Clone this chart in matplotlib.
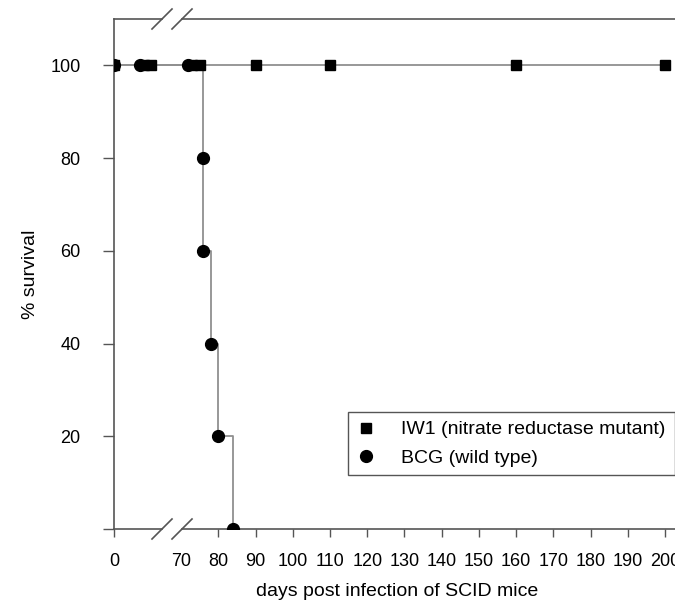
import matplotlib
matplotlib.use("Agg")
import matplotlib.pyplot as plt
import numpy as np

plt.rcParams['font.family'] = ['Liberation Sans', 'DejaVu Sans']

# survival data
iw1_days = [0, 8, 10, 73, 75, 90, 110, 160, 200]
iw1_surv = [100, 100, 100, 100, 100, 100, 100, 100, 100]
bcg_days = [0, 7, 72, 76, 76, 78, 80, 84]
bcg_surv = [100, 100, 100, 80, 60, 40, 20, 0]

xtick_vals = [0, 70, 80, 90, 100, 110, 120, 130, 140, 150, 160, 170, 180, 190, 200]
ytick_vals = [0, 20, 40, 60, 80, 100]
ytick_labels = ['', '20', '40', '60', '80', '100']


# broken x axis: squeeze days 15-70 into a short stretch
def fwd(d):
    d = np.asarray(d, dtype=float)
    return np.where(d <= 15, d, np.where(d < 70, 15 + (d - 15) * 3 / 55, d - 52))


def inv(p):
    p = np.asarray(p, dtype=float)
    return np.where(p <= 15, p, np.where(p < 18, 15 + (p - 15) * 55 / 3, p + 52))


fig = plt.figure(figsize=(6.75, 6.0), dpi=100)
ax = fig.add_axes([114 / 675, 71 / 600, 566 / 675, 510 / 600])
ax.set_xscale('function', functions=(fwd, inv))

line_col = '#909090'
ax.plot(iw1_days, iw1_surv, color=line_col, lw=1.3, zorder=2)
ax.plot(bcg_days, bcg_surv, color=line_col, lw=1.3, drawstyle='steps-post', zorder=2)
ax.plot(iw1_days, iw1_surv, ls='none', marker='s', ms=7.5, color='black', zorder=3,
        label='IW1 (nitrate reductase mutant)')
ax.plot(bcg_days, bcg_surv, ls='none', marker='o', ms=8.5, color='black', zorder=4,
        label='BCG (wild type)')

ax.set_xlim(0, 204)
ax.set_ylim(0, 110)
ax.set_xticks(xtick_vals)
ax.set_xticklabels([str(v) for v in xtick_vals])
ax.set_yticks(ytick_vals)
ax.set_yticklabels(ytick_labels)
ax.tick_params(axis='x', direction='out', length=6, width=1, color='#555555',
               labelsize=13, pad=11)
ax.tick_params(axis='y', direction='out', length=8, width=1, color='#555555',
               labelsize=13, pad=16)
ax.xaxis.get_major_ticks()[1].tick1line.set_visible(False)

ax.set_xlabel('days post infection of SCID mice', fontsize=14, labelpad=10)
ax.set_ylabel('% survival', fontsize=14, labelpad=8)

# spines with a gap for the axis break
for s in ['top', 'bottom', 'right']:
    ax.spines[s].set_visible(False)
ax.spines['left'].set_color('#555555')
ax.spines['left'].set_linewidth(1.2)
g0, g1 = 48 / 566, 68 / 566
for yy in [0, 1]:
    ax.plot([0, g0], [yy, yy], transform=ax.transAxes, color='#555555', lw=1.2, clip_on=False)
    ax.plot([g1, 1], [yy, yy], transform=ax.transAxes, color='#555555', lw=1.2, clip_on=False)
    dx, dy = 10 / 566, 10 / 510
    for cx in [g0, g1]:
        ax.plot([cx - dx, cx + dx], [yy - dy, yy + dy], transform=ax.transAxes,
                color='#555555', lw=1.2, clip_on=False)

leg = ax.legend(loc='upper left', bbox_to_anchor=(234 / 566, 117 / 510), fontsize=14,
                frameon=True, fancybox=False, framealpha=1, edgecolor='#555555',
                handlelength=1.0, handletextpad=1.3, borderpad=0.45, labelspacing=0.55,
                borderaxespad=0)
leg.get_frame().set_linewidth(1.0)

fig.savefig('out.png', dpi=100)
